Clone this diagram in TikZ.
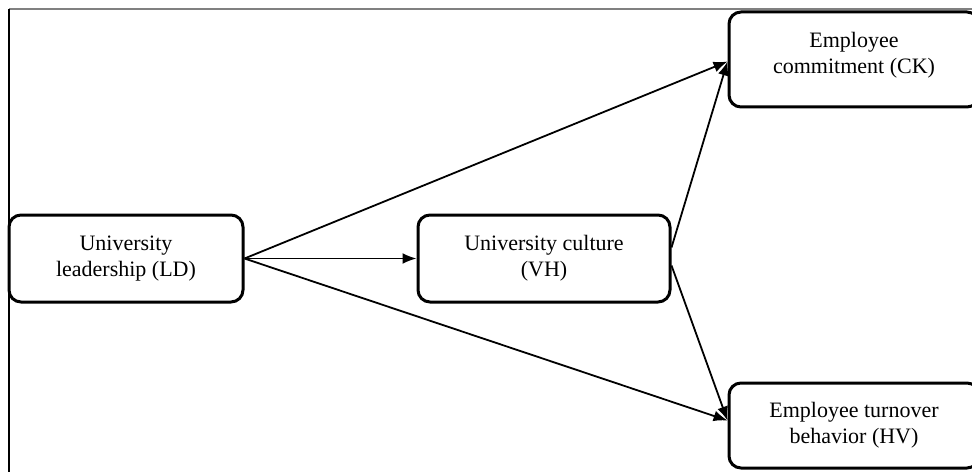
\documentclass[tikz,border=0pt]{standalone}
\usepackage{fontspec}
\setmainfont{Liberation Serif}
\usetikzlibrary{arrows.meta, positioning}
\tikzstyle{factor}=[rectangle, rounded corners=6pt, draw=black, line width=1.5pt, fill=white, align=center, font=\fontsize{11}{13}\selectfont]
\tikzstyle{link}=[-{Latex[length=7pt,width=5.5pt]}, line width=0.9pt]

\begin{document}
\begin{tikzpicture}[x=0.5pt, y=0.5pt]
    \useasboundingbox (0,0) rectangle (972,472);
    % frame
    \draw[gray, line width=1pt] (9,463) -- (972,463);
    \draw[line width=0.6pt] (9,463) -- (9,0);

    \node[factor, minimum width=117pt, minimum height=43.5pt] (ld) at (126,213.5) {University\\leadership (LD)};
    \node[factor, minimum width=126pt, minimum height=43.5pt] (vh) [right=86pt of ld] {University culture\\(VH)};
    \node[factor, minimum width=125pt, minimum height=47.5pt] (ck) at (854,412.5) {Employee\\commitment (CK)\\[-6pt]};
    \node[factor, minimum width=125pt, minimum height=42.5pt] (hv) at (854,46.5) {Employee turnover\\behavior (HV)};

    \draw[link] (ld.east) -- ([yshift=-1pt]ck.west);
    \draw[link] (ld.east) -- (vh.west);
    \draw[link] (ld.east) -- ([yshift=2.5pt]hv.west);
    \draw[link] ([yshift=5.5pt]vh.east) -- ([yshift=-1pt]ck.west);
    \draw[link] ([yshift=-3.5pt]vh.east) -- ([yshift=2.5pt]hv.west);
\end{tikzpicture}
\end{document}
